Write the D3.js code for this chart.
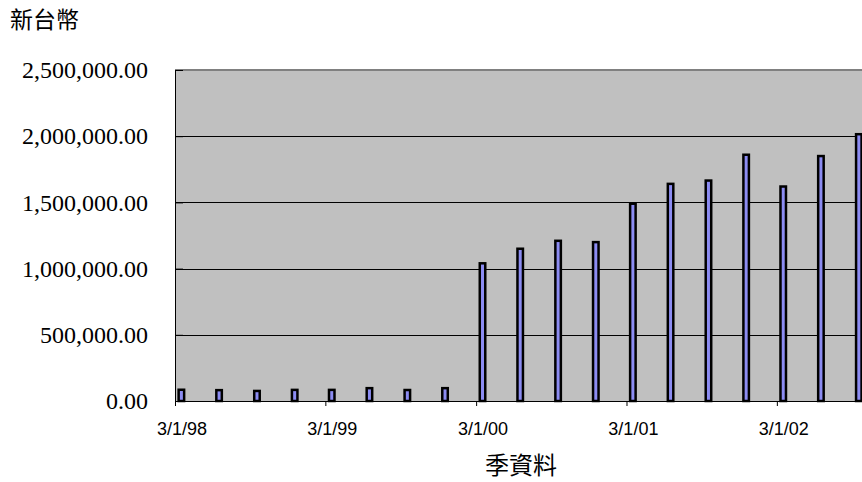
<!DOCTYPE html>
<html>
<head>
<meta charset="utf-8">
<script src="https://cdn.jsdelivr.net/npm/d3@7"></script>
<style>
  body { margin: 0; background: #fff; }
  svg { display: block; }
</style>
</head>
<body>
<div id="chart"></div>
<script>
// quarterly data, 新台幣
const quarters = [
    '1998-03-01', '1998-06-01', '1998-09-01', '1998-12-01',
    '1999-03-01', '1999-06-01', '1999-09-01', '1999-12-01',
    '2000-03-01', '2000-06-01', '2000-09-01', '2000-12-01',
    '2001-03-01', '2001-06-01', '2001-09-01', '2001-12-01',
    '2002-03-01', '2002-06-01', '2002-09-01'
];
const amounts = [
    85000, 82000, 76000, 84000,
    84000, 97000, 83000, 97000,
    1040000, 1150000, 1210000, 1200000,
    1490000, 1640000, 1665000, 1860000,
    1620000, 1850000, 2015000
];
const yTicks = [0, 500000, 1000000, 1500000, 2000000, 2500000];
const xTicks = ['1998-03-01', '1999-03-01', '2000-03-01', '2001-03-01', '2002-03-01'];

const width = 862, height = 482;
const margin = { top: 70, left: 175, bottom: 81 };
const parse = d3.timeParse('%Y-%m-%d');

const data = quarters.map((q, i) => ({ date: parse(q), value: amounts[i] }));

const svg = d3.select('#chart').append('svg')
    .attr('width', width)
    .attr('height', height);

// date axis with monthly base unit; plot runs to end of Sept 2002
const x = d3.scaleTime()
    .domain([parse('1998-03-01'), parse('2002-10-01')])
    .range([margin.left, 865]);

// half of the month slot starting at d
const halfMonth = d => (x(d3.timeMonth.offset(d, 1)) - x(d)) / 2;

const y = d3.scaleLinear()
    .domain([0, 2500000])
    .range([height - margin.bottom, margin.top]);

// plot area
svg.append('rect')
    .attr('x', x.range()[0])
    .attr('y', y(2500000))
    .attr('width', x.range()[1] - x.range()[0])
    .attr('height', y(0) - y(2500000))
    .attr('fill', '#c0c0c0');

// gridlines
svg.append('g')
    .selectAll('line')
    .data(yTicks.filter(t => t > 0 && t < 2500000))
    .enter().append('line')
    .attr('x1', x.range()[0])
    .attr('x2', x.range()[1])
    .attr('y1', d => Math.round(y(d)) + 0.5)
    .attr('y2', d => Math.round(y(d)) + 0.5)
    .attr('stroke', '#000')
    .attr('stroke-width', 1);

// top border
svg.append('line')
    .attr('x1', x.range()[0])
    .attr('x2', x.range()[1])
    .attr('y1', y(2500000))
    .attr('y2', y(2500000))
    .attr('stroke', '#808080')
    .attr('stroke-width', 2);

// bars, centred in their month slot
const barW = 5.5;
svg.append('g')
    .selectAll('rect')
    .data(data)
    .enter().append('rect')
    .attr('x', d => x(d.date) + halfMonth(d.date) - barW / 2)
    .attr('y', d => y(d.value))
    .attr('width', barW)
    .attr('height', d => y(0) - y(d.value))
    .attr('fill', '#8c8cf2')
    .attr('stroke', '#000')
    .attr('stroke-width', 2.5);

// y axis
const yAxis = svg.append('g')
    .attr('transform', `translate(${margin.left},0)`)
    .call(d3.axisLeft(y)
        .tickValues(yTicks)
        .tickSize(-8)
        .tickPadding(27)
        .tickFormat(d3.format(',.2f')));
yAxis.select('.domain').attr('stroke', '#000');
yAxis.selectAll('text')
    .attr('font-family', '"Liberation Serif", "Times New Roman", serif')
    .attr('font-size', '24px')
    .attr('fill', '#000');

// x axis, labels centred in the month slot
const xAxis = svg.append('g')
    .attr('transform', `translate(0,${y(0)})`)
    .call(d3.axisBottom(x)
        .tickValues(xTicks.map(parse))
        .tickSize(5)
        .tickPadding(16)
        .tickFormat(d3.timeFormat('%-m/%-d/%y')));
xAxis.select('.domain').attr('stroke', '#000');
xAxis.selectAll('text')
    .attr('x', d => halfMonth(d))
    .attr('font-family', '"Liberation Sans", Arial, sans-serif')
    .attr('font-size', '18px')
    .attr('fill', '#000');

// titles
svg.append('text')
    .attr('x', 10)
    .attr('y', 28)
    .attr('font-family', '"Noto Sans CJK TC", sans-serif')
    .attr('font-size', '23px')
    .text('新台幣');

svg.append('text')
    .attr('x', 521)
    .attr('y', 474)
    .attr('text-anchor', 'middle')
    .attr('font-family', '"Noto Sans CJK TC", sans-serif')
    .attr('font-size', '24px')
    .text('季資料');
</script>
</body>
</html>
